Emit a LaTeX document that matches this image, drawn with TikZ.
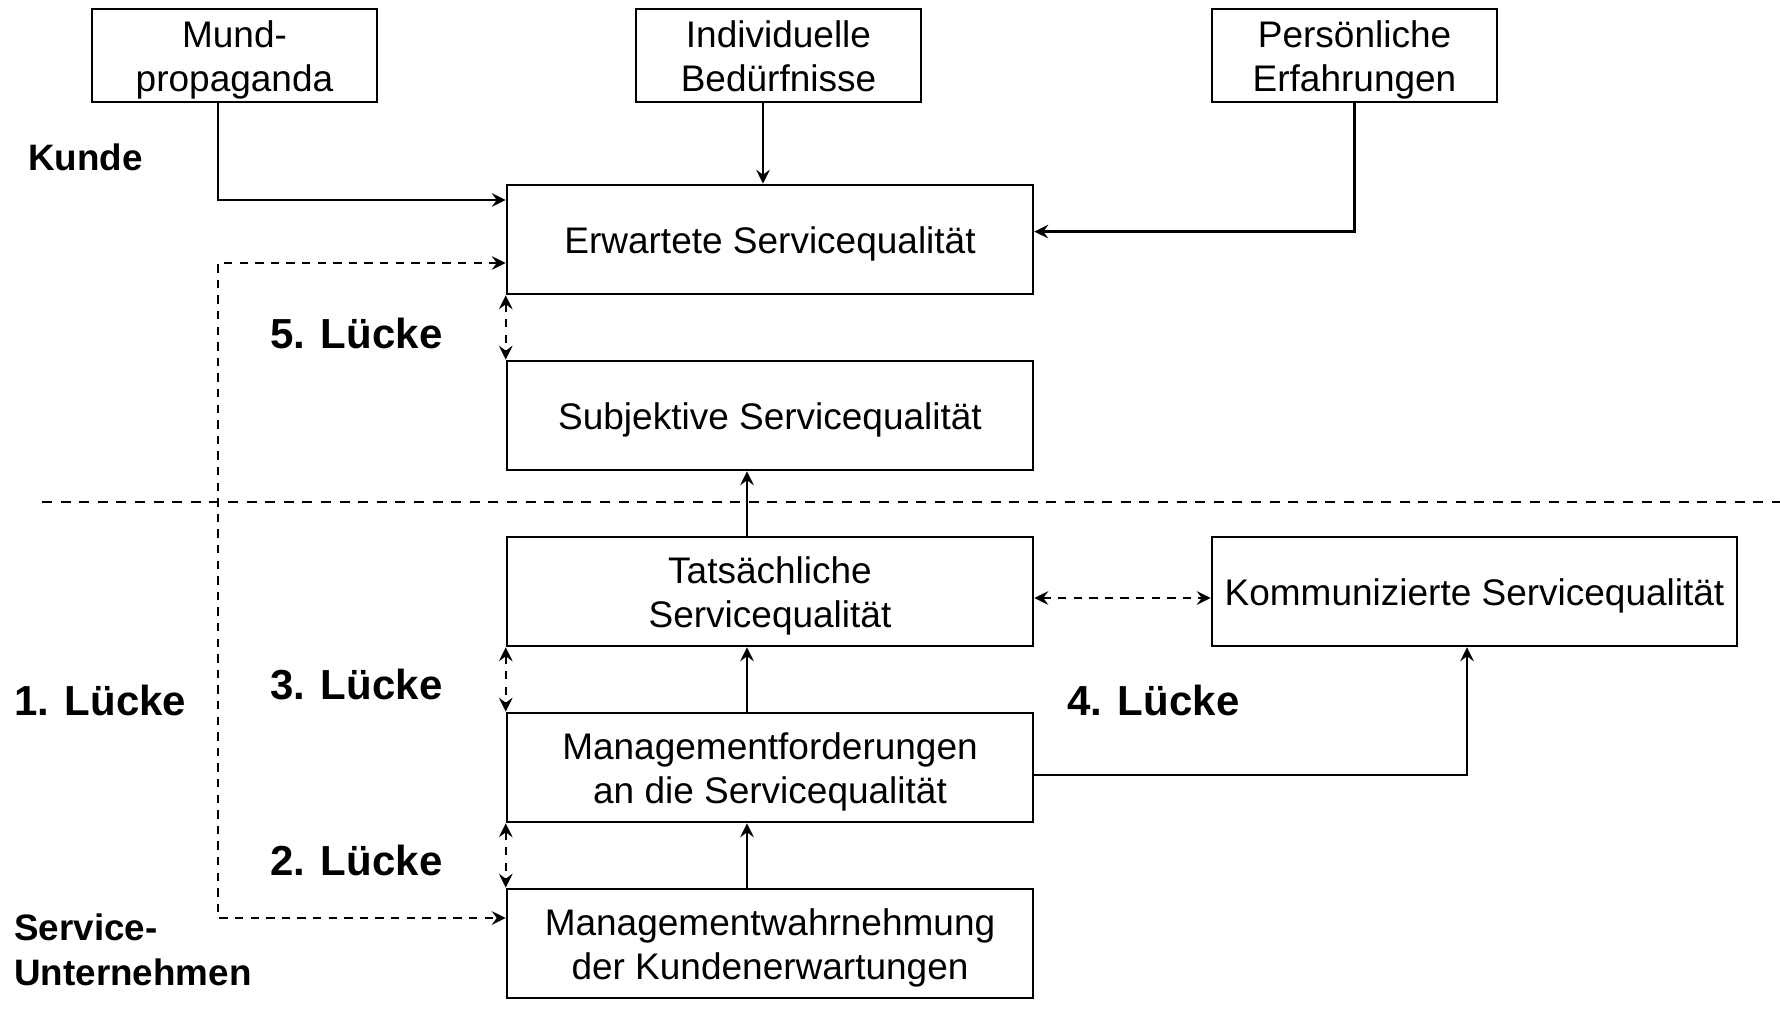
\documentclass[tikz,border=0pt]{standalone}
\usepackage{fontspec}
\setmainfont{Liberation Sans}
\usetikzlibrary{arrows.meta}
\begin{document}
\begin{tikzpicture}[x=0.5pt,y=-0.5pt,
  boxtext/.style={align=center,inner sep=0pt,yshift=-2.3pt,
    font=\fontsize{18.5}{22}\selectfont},
  box/.style={draw,line width=1.25pt,inner sep=0pt},
  smallbox/.style={box,minimum width=142.5pt,minimum height=46.5pt},
  bigbox/.style={box,minimum width=263pt,minimum height=54.5pt},
  tip/.tip={Stealth[length=7pt,width=6.8pt,inset=2.5pt]},
  arr/.style={line width=1.2pt,-tip},
  darr/.style={line width=1.2pt,tip-tip,dash pattern=on 4.2pt off 3.6pt},
  gaplabel/.style={font=\bfseries\fontsize{21}{25}\selectfont,inner sep=0pt},
  sidelabel/.style={font=\bfseries\fontsize{18.4}{22.5}\selectfont,inner sep=0pt,align=left}
]
\useasboundingbox (0,0) rectangle (1780,1015);

% boxes
\node[smallbox,label={[boxtext]center:Mund-\\propaganda}] (mund) at (234.5,55.5) {};
\node[smallbox,label={[boxtext,yshift=1.7pt]center:Individuelle\\Bedürfnisse}] (indiv) at (778.5,55.5) {};
\node[smallbox,label={[boxtext]center:Persönliche\\Erfahrungen}] (pers) at (1354.5,55.5) {};
\node[bigbox,label={[boxtext]center:Erwartete Servicequalität}] (erw) at (770,239.5) {};
\node[bigbox,label={[boxtext]center:Subjektive Servicequalität}] (sub) at (770,415.5) {};
\node[bigbox,label={[boxtext]center:Tatsächliche\\Servicequalität}] (tat) at (770,591.5) {};
\node[bigbox,minimum width=262.5pt,label={[boxtext]center:Kommunizierte Servicequalität}] (kom) at (1474.5,591.5) {};
\node[bigbox,label={[boxtext]center:Managementforderungen\\an die Servicequalität}] (mgf) at (770,767.5) {};
\node[bigbox,label={[boxtext]center:Managementwahrnehmung\\der Kundenerwartungen}] (mgw) at (770,943.5) {};

% labels
\node[sidelabel,anchor=west] (kunde) at (28,157) {Kunde};
\node[sidelabel,anchor=west] (firma) at (14,949.5) {Service-\\Unternehmen};
\node[gaplabel,anchor=west] (l5) at (270,333) {5. Lücke};
\node[gaplabel,anchor=west] (l3) at (270,685) {3. Lücke};
\node[gaplabel,anchor=west] (l2) at (270,860) {2. Lücke};
\node[gaplabel,anchor=west] (l1) at (14,700) {1. Lücke};
\node[gaplabel,anchor=west] (l4) at (1067,700) {4. Lücke};

% separator
\draw[line width=1.2pt,dash pattern=on 5pt off 4.3pt] (42,502) -- (1780,502);

% connectors
\draw[arr] ([xshift=-8.25pt]mund.south) |- ([yshift=19.75pt]erw.west);
\draw[arr] ([xshift=-7.75pt]indiv.south) -- ([xshift=-7.75pt]indiv.south |- erw.north);
\draw[arr] (pers.south) |- ([yshift=3.95pt]erw.east);

\coordinate (lx) at (218,502);
\draw[darr] ([yshift=-11.75pt]erw.west) -- ([yshift=-11.75pt]erw.west -| lx)
  -- ([yshift=12.75pt]mgw.west -| lx) -- ([yshift=12.75pt]mgw.west);

\draw[darr] (erw.south west) -- (sub.north west);
\draw[darr] (tat.south west) -- (mgf.north west);
\draw[darr] (mgf.south west) -- (mgw.north west);

\draw[arr] ([xshift=-11.5pt]tat.north) -- ([xshift=-11.5pt]sub.south);
\draw[arr] ([xshift=-11.5pt]mgf.north) -- ([xshift=-11.5pt]tat.south);
\draw[arr] ([xshift=-11.5pt]mgw.north) -- ([xshift=-11.5pt]mgf.south);

\draw[darr] ([yshift=-3.25pt]tat.east) -- ([yshift=-3.25pt]tat.east -| kom.west);
\draw[arr] ([yshift=-3.75pt]mgf.east) -| ([xshift=-3.75pt]kom.south);
\end{tikzpicture}
\end{document}
